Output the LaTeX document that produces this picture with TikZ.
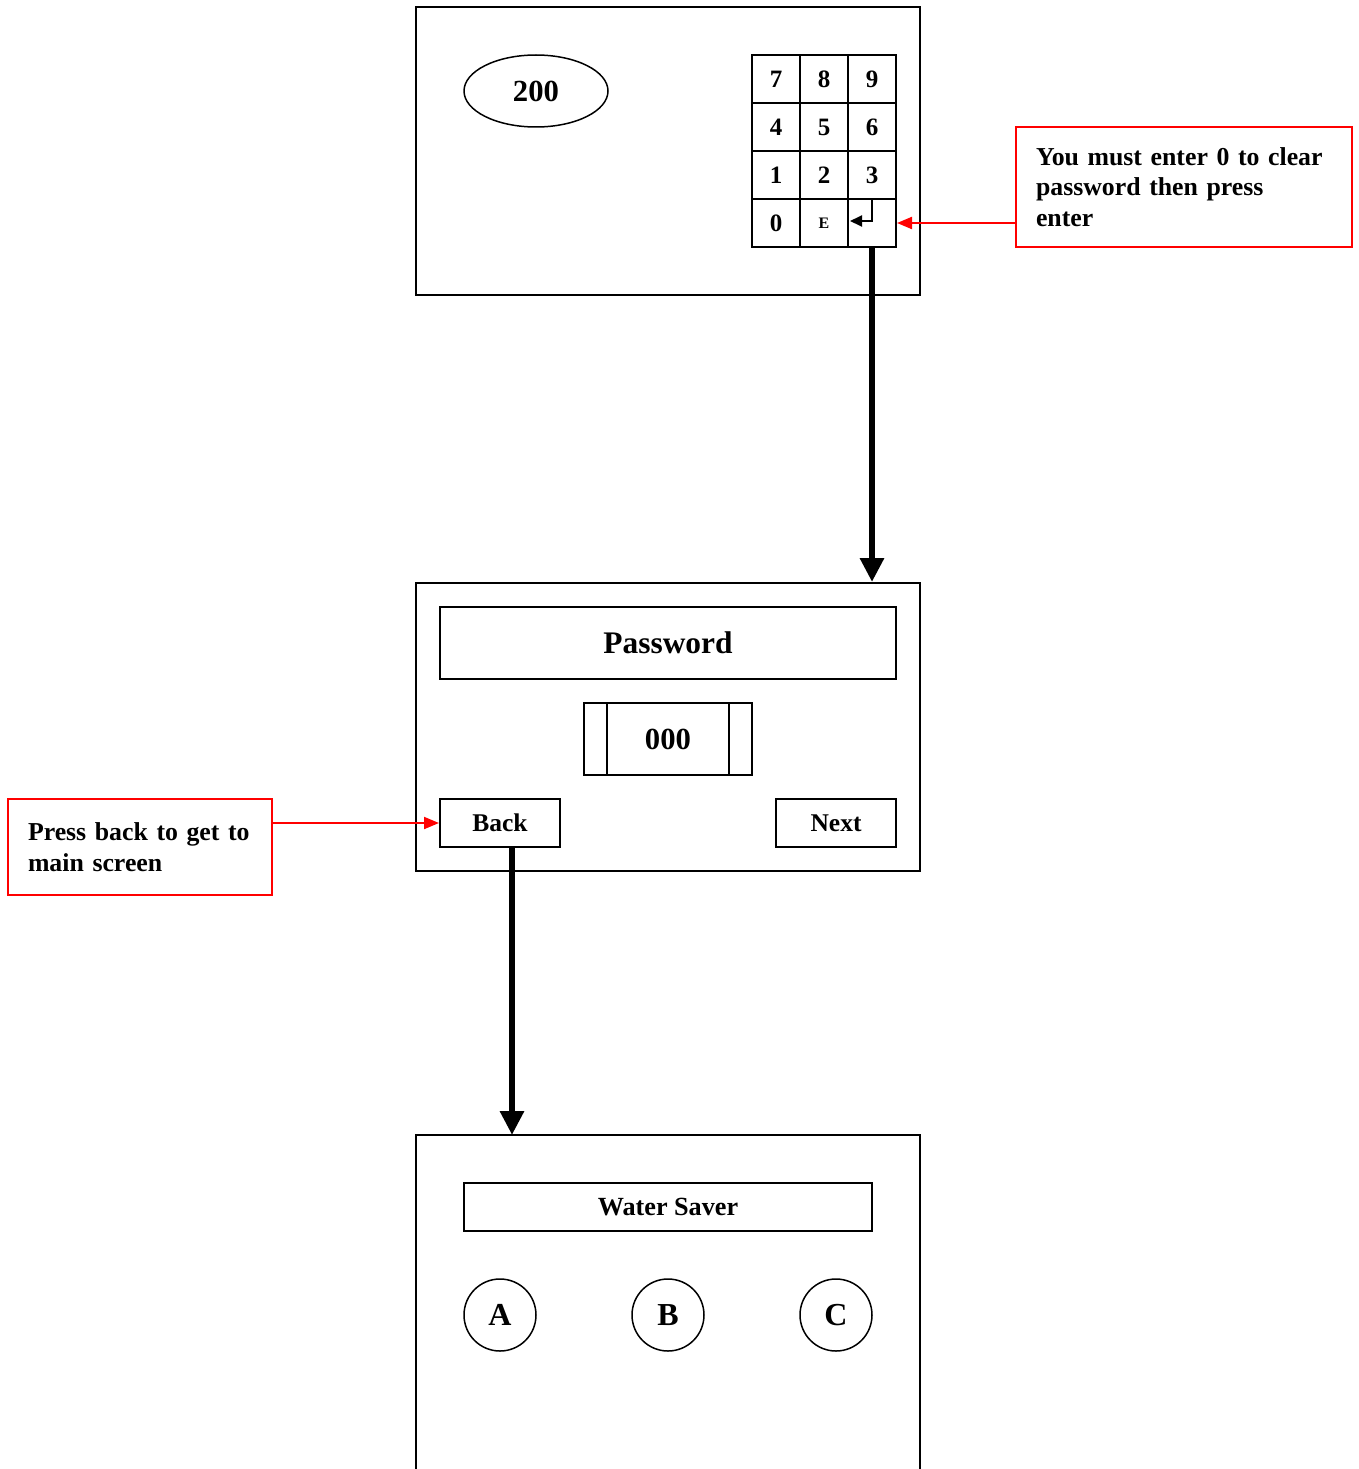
\documentclass[tikz,border=0pt]{standalone}
\usepackage{fontspec}
\setmainfont{Liberation Serif}
\usetikzlibrary{arrows.meta,shapes.geometric}
\begin{document}
\begin{tikzpicture}[
  x=1pt, y=-1pt,
  screen/.style={rectangle, draw, line width=2pt, minimum width=504pt, minimum height=288pt, inner sep=0pt},
  key/.style={rectangle, draw, line width=2pt, minimum size=48pt, inner sep=0pt, font=\fontsize{25}{30}\selectfont\bfseries},
  btn/.style={rectangle, draw, line width=2pt, minimum width=120pt, minimum height=48pt, inner sep=0pt, font=\fontsize{25.5}{30}\selectfont\bfseries},
  bar/.style={rectangle, draw, line width=2pt, inner sep=0pt},
  roundbtn/.style={circle, draw, line width=1.5pt, minimum size=72pt, inner sep=0pt, font=\fontsize{32}{36}\selectfont\bfseries},
  note/.style={rectangle, draw=red, line width=2pt, inner xsep=20pt, inner ysep=0pt, align=left, font=\fontsize{25.8}{30.5}\selectfont\bfseries},
  bigarrow/.style={line width=6pt, -{Triangle[length=24pt,width=23pt]}},
  redarrow/.style={red, line width=2pt, -{Triangle[length=15pt,width=12pt]}}
]
\useasboundingbox (0,0) rectangle (1359,1469);

\node[screen] (scr1) at (668,151) {};
\node[ellipse, draw, line width=1.5pt, minimum width=144pt, minimum height=72pt, inner sep=0pt, font=\fontsize{30.7}{34}\selectfont\bfseries] (count) at (536,91) {200};
\foreach \d/\c/\r in {7/0/0,8/1/0,9/2/0,4/0/1,5/1/1,6/2/1,1/0/2,2/1/2,3/2/2,0/0/3}
  \node[key] (k\d) at ({776+48*\c},{79+48*\r}) {\d};
\node[key, font=\fontsize{16}{18}\selectfont\bfseries] (kE) at (824,223) {E};
\node[key] (kent) at (872,223) {};
\draw[line width=2pt, -{Triangle[length=12pt,width=11pt]}] (kent.north) -- ++(0,23) -- ++(-22,0);

\node[note, text width=296pt, minimum height=120pt] (note1) at (1184,187) {You must enter 0 to clear\\password then press\\enter};
\draw[redarrow] (note1.west |- kent.east) -- (kent.east);

\node[screen] (scr2) at (668,727) {};
\draw[bigarrow] (kent.south) -- (kent.south |- scr2.north);
\node[bar, minimum width=456pt, minimum height=72pt, font=\fontsize{31.4}{36}\selectfont\bfseries] (pwtitle) at (668,643) {Password};
\node[bar, minimum width=168pt, minimum height=72pt, font=\fontsize{30.7}{34}\selectfont\bfseries] (pwfield) at (668,739) {000};
\draw[line width=2pt] ([xshift=24pt]pwfield.north west) -- ([xshift=24pt]pwfield.south west);
\draw[line width=2pt] ([xshift=-24pt]pwfield.north east) -- ([xshift=-24pt]pwfield.south east);
\node[btn] (back) at (500,823) {Back};
\node[btn] (next) at (836,823) {Next};

\node[note, text width=224pt, minimum height=96pt] (note2) at (140,847) {Press back to get to\\main screen};
\draw[redarrow] (note2.east |- back.west) -- (back.west);

\draw[line width=2pt] (416,1469) |- (920,1135) -- (920,1469);
\coordinate (mainscr) at (668,1135);
\draw[bigarrow] ([xshift=12pt]back.south) -- ([xshift=12pt]back.south |- mainscr);
\node[bar, minimum width=408pt, minimum height=48pt, font=\fontsize{26.2}{30}\selectfont\bfseries] (title) at (668,1207) {Water Saver};
\foreach \l/\x in {A/500,B/668,C/836}
  \node[roundbtn] (opt\l) at (\x,1315) {\l};
\end{tikzpicture}
\end{document}
